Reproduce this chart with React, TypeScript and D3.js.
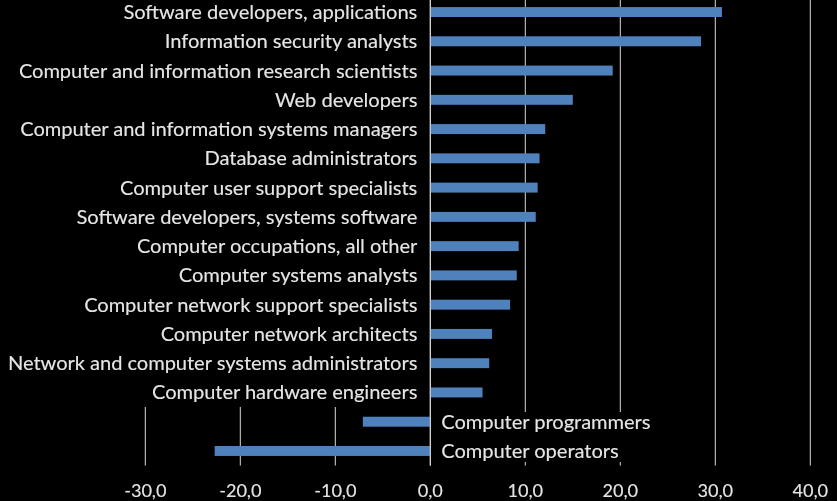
import React from "react";
import * as d3 from "d3";

const categories = [
  "Software developers, applications",
  "Information security analysts",
  "Computer and information research scientists",
  "Web developers",
  "Computer and information systems managers",
  "Database administrators",
  "Computer user support specialists",
  "Software developers, systems software",
  "Computer occupations, all other",
  "Computer systems analysts",
  "Computer network support specialists",
  "Computer network architects",
  "Network and computer systems administrators",
  "Computer hardware engineers",
  "Computer programmers",
  "Computer operators",
];
const values = [30.7, 28.5, 19.2, 15.0, 12.1, 11.5, 11.3, 11.1, 9.3, 9.1, 8.4, 6.5, 6.2, 5.5, -7.1, -22.7];
const ticks = [-30, -20, -10, 0, 10, 20, 30, 40];

const W = 837;
const H = 501;

export default function App() {
  const x = d3.scaleLinear().domain([-30, 40]).range([145.3, 810.3]);
  const y = d3
    .scaleBand<string>()
    .domain(categories)
    .range([-2.6, 465.6])
    .paddingInner(0.66)
    .paddingOuter(0.33);
  const fmt = (v: number) => d3.format(".1f")(v).replace(".", ",").replace("−", "-");
  const font = "Lato, 'Open Sans', sans-serif";
  const textColor = "#e4e4e4";
  return (
    <svg
      width={W}
      height={H}
      style={{ position: "absolute", left: 0, top: 0, background: "#000" }}
    >
      <defs>
        <filter id="sh" x="-5%" y="-30%" width="110%" height="160%">
          <feDropShadow dx="0.6" dy="0.6" stdDeviation="0.4" floodColor="#000" floodOpacity="0.9" />
        </filter>
      </defs>
      <rect x={0} y={0} width={W} height={H} fill="#000" />
      {ticks.map((t) => (
        <line
          key={"g" + t}
          x1={x(t)}
          x2={x(t)}
          y1={-3}
          y2={465.6}
          stroke="#d9d9d9"
          strokeWidth={1}
        />
      ))}
      {/* label area boxes covering gridlines behind the category labels */}
      <rect x={0} y={0} width={x(0) - 4} height={407} fill="#000" />
      <rect x={x(0) + 2} y={412} width={x(27) - x(0)} height={50} fill="#000" />
      {categories.map((c, i) => {
        const v = values[i];
        const y0 = y(c)!;
        return (
          <rect
            key={"b" + c}
            x={x(Math.min(0, v))}
            y={y0}
            width={Math.abs(x(v) - x(0))}
            height={y.bandwidth()}
            fill="#4f81bd"
          />
        );
      })}
      <line x1={x(0)} x2={x(0)} y1={-3} y2={465.6} stroke="#d9d9d9" strokeWidth={1} />
      {categories.map((c, i) => {
        const v = values[i];
        const cy = y(c)! + y.bandwidth() / 2;
        const pos = v >= 0;
        return (
          <text
            key={"l" + c}
            x={pos ? x(0) - 13 : x(0) + 11}
            y={cy}
            dy="0.35em"
            textAnchor={pos ? "end" : "start"}
            fontFamily={font}
            fontSize={20}
            fill={textColor}
            filter="url(#sh)"
          >
            {c}
          </text>
        );
      })}
      {ticks.map((t) => (
        <text
          key={"t" + t}
          x={x(t)}
          y={497}
          textAnchor="middle"
          fontFamily={font}
          fontSize={18}
          fill={textColor}
          filter="url(#sh)"
        >
          {fmt(t)}
        </text>
      ))}
    </svg>
  );
}
